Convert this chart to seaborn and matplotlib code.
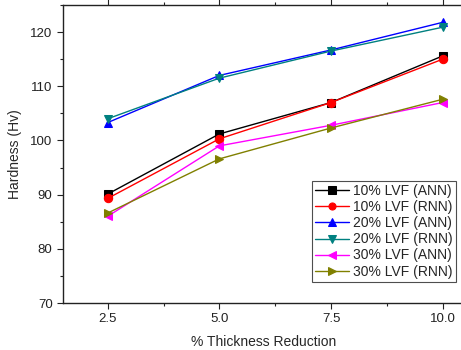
import matplotlib
matplotlib.use("Agg")
import matplotlib.pyplot as plt
import seaborn as sns
import pandas as pd
from matplotlib.ticker import MultipleLocator

reduction = [2.5, 5.0, 7.5, 10.0]

lvf10_ann = [90.1, 101.2, 107.0, 115.6]
lvf10_rnn = [89.3, 100.3, 107.0, 115.0]
lvf20_ann = [103.3, 112.0, 116.7, 121.8]
lvf20_rnn = [104.0, 111.5, 116.5, 120.9]
lvf30_ann = [86.0, 99.0, 102.8, 107.0]
lvf30_rnn = [86.6, 96.6, 102.3, 107.6]

labels = ["10% LVF (ANN)", "10% LVF (RNN)", "20% LVF (ANN)",
          "20% LVF (RNN)", "30% LVF (ANN)", "30% LVF (RNN)"]
series = [lvf10_ann, lvf10_rnn, lvf20_ann, lvf20_rnn, lvf30_ann, lvf30_rnn]
colors = ["#000000", "#FF0000", "#0000FF", "#008080", "#FF00FF", "#808000"]
markers = ["s", "o", "^", "v", "<", ">"]

sns.set_style("ticks")
plt.rcParams["font.family"] = ["Liberation Sans", "DejaVu Sans"]

fig = plt.figure(figsize=(4.61, 3.5), dpi=100)
ax = fig.add_axes([63 / 461, 47 / 350, (465 - 63) / 461, (303 - 5) / 350])

for lab, vals, col, mk in zip(labels, series, colors, markers):
    df = pd.DataFrame({"x": reduction, "y": vals})
    sns.lineplot(data=df, x="x", y="y", ax=ax, color=col, marker=mk,
                 markersize=6, markeredgecolor=col, linewidth=1.0, label=lab)

ax.set_xlim(1.5, 10.5)
ax.set_ylim(70, 125)
ax.set_xticks(reduction)
ax.set_xticklabels(["2.5", "5.0", "7.5", "10.0"])
ax.xaxis.set_minor_locator(MultipleLocator(1.25))
ax.yaxis.set_major_locator(MultipleLocator(10))
ax.yaxis.set_minor_locator(MultipleLocator(5))
ax.tick_params(which="both", direction="out", top=True, right=False,
               labelsize=9.5, width=0.8, colors="#222222", labelcolor="#222222")
ax.tick_params(which="major", length=4)
ax.tick_params(which="minor", length=2.5)
for s in ax.spines.values():
    s.set_linewidth(1.0)
    s.set_color("#222222")

ax.set_xlabel("% Thickness Reduction", fontsize=10, labelpad=7)
ax.set_ylabel("Hardness (Hv)", fontsize=10, labelpad=6)

leg = ax.legend(loc="lower right", bbox_to_anchor=(393 / 402, 21 / 298),
                fontsize=10, frameon=True, fancybox=False, edgecolor="#222222",
                handlelength=2.4, handletextpad=0.3, borderpad=0.25,
                labelspacing=0.15, borderaxespad=0, markerscale=0.85)
leg.get_frame().set_linewidth(0.8)

fig.savefig("out.png", dpi=100)
